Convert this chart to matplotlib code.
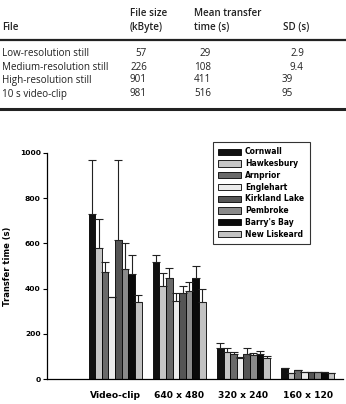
import numpy as np
import matplotlib
matplotlib.use('Agg')
import matplotlib.pyplot as plt
from matplotlib.lines import Line2D

# table data
table_header = ['File', 'File size\n(kByte)', 'Mean transfer\ntime (s)', 'SD (s)']
file_names = ['Low-resolution still', 'Medium-resolution still', 'High-resolution still', '10 s video-clip']
file_size = ['57', '226', '901', '981']
mean_time = ['29', '108', '411', '516']
sd_time = ['2.9', '9.4', '39', '95']

# chart data
categories = ['Video-clip', '640 x 480', '320 x 240', '160 x 120']
sites = ['Cornwall', 'Hawkesbury', 'Arnprior', 'Englehart', 'Kirkland Lake',
         'Pembroke', "Barry's Bay", 'New Liskeard']
means = {
    'Cornwall':      [728, 517, 135, 47],
    'Hawkesbury':    [578, 412, 121, 25],
    'Arnprior':      [472, 449, 109, 38],
    'Englehart':     [362, 346, 91, 32],
    'Kirkland Lake': [617, 379, 110, 29],
    'Pembroke':      [488, 390, 106, 33],
    "Barry's Bay":   [463, 448, 109, 29],
    'New Liskeard':  [339, 342, 91, 28],
}
errs = {
    'Cornwall':      [240, 32, 25, 0],
    'Hawkesbury':    [132, 56, 14, 0],
    'Arnprior':      [46, 40, 12, 3],
    'Englehart':     [2, 35, 8, 0],
    'Kirkland Lake': [351, 31, 28, 0],
    'Pembroke':      [113, 40, 10, 0],
    "Barry's Bay":   [85, 54, 16, 0],
    'New Liskeard':  [31, 57, 11, 0],
}
colors = ['#111111', '#c6c6c6', '#6a6a6a', '#ececec', '#555555', '#8a8a8a', '#0a0a0a', '#c2c2c2']

W, H = 346, 404
fig = plt.figure(figsize=(W / 100, H / 100), dpi=100)

# ---- table drawn in pixel coordinates
tax = fig.add_axes([0, 0, 1, 1], zorder=0)
tax.set_xlim(0, W)
tax.set_ylim(H, 0)
tax.axis('off')

tfont = dict(family='Open Sans', fontsize=7.1, color='#222222')
hfont = dict(family='Open Sans', fontsize=7.1, color='#222222', fontweight='semibold')
hx = [2, 130, 194, 283]
for x, h in zip(hx, table_header):
    tax.text(x, 33, h, ha='left', va='bottom', linespacing=1.35, **hfont)
tax.add_line(Line2D([0, W], [39.5, 39.5], color='#222222', lw=1.6))
row_y = [53, 67, 80, 94]
for i, y in enumerate(row_y):
    tax.text(2, y, file_names[i], ha='left', va='center', **tfont)
    tax.text(147, y, file_size[i], ha='right', va='center', **tfont)
    tax.text(211, y, mean_time[i], ha='right', va='center', **tfont)
    sx = 304 if '.' in sd_time[i] else 293
    tax.text(sx, y, sd_time[i], ha='right', va='center', **tfont)
tax.add_line(Line2D([0, W], [108.5, 108.5], color='#222222', lw=2.2))

# ---- bar chart
cfont = 'DejaVu Sans'
ax = fig.add_axes([47 / W, 1 - 379 / H, 296 / W, (379 - 153) / H], zorder=1)
ax.patch.set_alpha(0)
x = np.arange(len(categories))
bw = 0.103
for i, s in enumerate(sites):
    pos = x + (i - 3.5) * bw
    ax.bar(pos, means[s], bw, color=colors[i], edgecolor='black', linewidth=0.6, label=s, zorder=2)
    ax.errorbar(pos, means[s], yerr=[np.zeros(4), errs[s]], fmt='none', ecolor='#222222',
                elinewidth=0.8, capsize=2.8, capthick=0.8, zorder=3)

ax.set_xlim(-1.06, 3.55)
ax.set_ylim(0, 1000)
ax.set_yticks([0, 200, 400, 600, 800, 1000])
ax.set_xticks(x)
ax.set_xticklabels(categories, fontsize=6.6, fontweight='bold', family=cfont)
ax.tick_params(axis='x', length=0, pad=9)
ax.tick_params(axis='y', length=3, width=0.8, pad=1.5, labelsize=5.4)
for lab in ax.get_yticklabels():
    lab.set_fontweight('bold')
    lab.set_family(cfont)
for sp in ['top', 'right']:
    ax.spines[sp].set_visible(False)
ax.spines['left'].set_linewidth(0.9)
ax.spines['bottom'].set_linewidth(0.9)
ax.set_ylabel('Transfer time (s)', fontsize=6, fontweight='bold', family=cfont)
ax.yaxis.set_label_coords((12 - 47) / 296, 0.5)

leg = ax.legend(loc='upper left', bbox_to_anchor=(213 / W, 1 - 142 / H), bbox_transform=fig.transFigure,
                prop={'family': cfont, 'weight': 'bold', 'size': 5.5}, frameon=True, fancybox=False,
                handlelength=3.0, handleheight=0.9, handletextpad=0.5, labelspacing=0.36,
                borderpad=0.7, borderaxespad=0)
leg.get_frame().set_edgecolor('black')
leg.get_frame().set_linewidth(0.8)

fig.savefig('out.png', dpi=100)
